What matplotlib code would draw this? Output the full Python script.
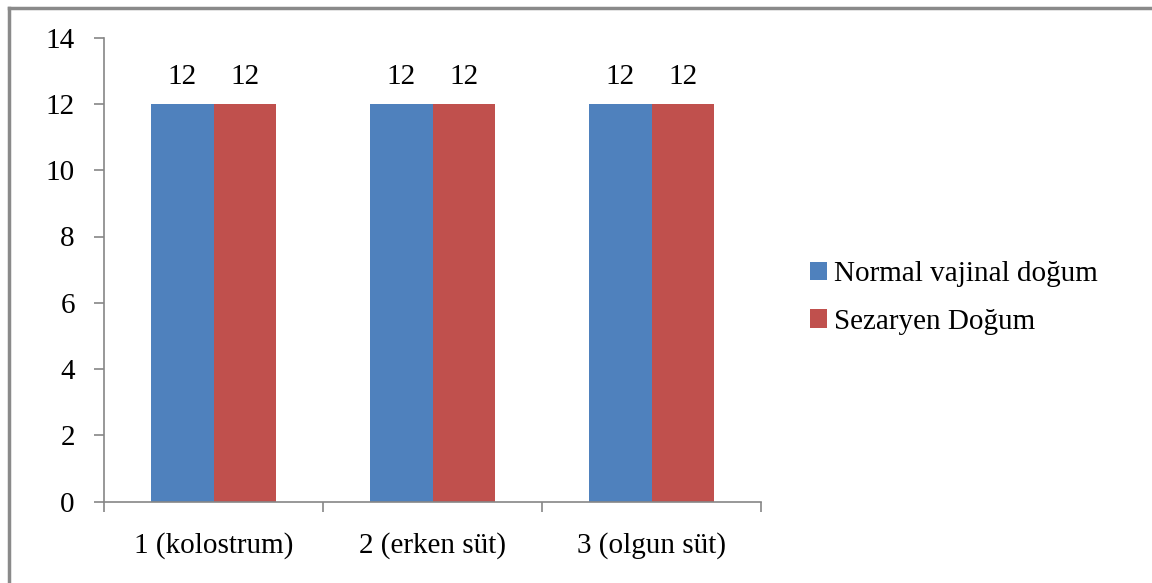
import matplotlib
matplotlib.use("Agg")
import matplotlib.pyplot as plt
import numpy as np
from matplotlib.lines import Line2D

categories = ["1 (kolostrum)", "2 (erken süt)", "3 (olgun süt)"]
series_names = ["Normal vajinal doğum", "Sezaryen Doğum"]
normal_vals = [12, 12, 12]
sezaryen_vals = [12, 12, 12]
yticks = [0, 2, 4, 6, 8, 10, 12, 14]

plt.rcParams['font.family'] = ['Liberation Serif', 'DejaVu Serif']

W, H = 1152, 583
fig = plt.figure(figsize=(W / 100, H / 100), dpi=100)
ax = fig.add_axes([104 / W, 1 - 501.7 / H, (761 - 104) / W, (501.7 - 37.6) / H])

gray = '#868686'
blue = '#4F81BD'
red = '#C0504D'
fs = 21

x = np.arange(len(categories))
bw = 1 / 3.5  # gap width 75%
b1 = ax.bar(x - bw / 2, normal_vals, bw, color=blue, label=series_names[0])
b2 = ax.bar(x + bw / 2, sezaryen_vals, bw, color=red, label=series_names[1])

for bars in (b1, b2):
    for r in bars:
        ax.text(r.get_x() + r.get_width() / 2, r.get_height() + 0.42, str(int(r.get_height())),
                ha='center', va='bottom', fontsize=fs)

ax.set_xlim(-0.5, len(categories) - 0.5)
ax.set_ylim(0, 14)
ax.set_yticks(yticks)
ax.tick_params(axis='y', length=7, width=1.2, color=gray, pad=14, labelsize=fs)

ax.set_xticks(np.arange(len(categories) + 1) - 0.5)
ax.set_xticklabels([])
ax.set_xticks(x, minor=True)
ax.set_xticklabels(categories, minor=True)
ax.tick_params(axis='x', which='major', length=7, width=1.2, color=gray)
ax.tick_params(axis='x', which='minor', length=0, pad=22, labelsize=fs)

for s in ['top', 'right']:
    ax.spines[s].set_visible(False)
for s in ['left', 'bottom']:
    ax.spines[s].set_color(gray)
    ax.spines[s].set_linewidth(1.2)

leg = fig.legend(handles=[b1, b2], loc='center left', bbox_to_anchor=(795 / W, 1 - 298 / H),
                 frameon=False, fontsize=fs, handlelength=0.6, handleheight=0.6,
                 handletextpad=0.25, labelspacing=0.75, borderpad=0)

# outer frame (top and left edges visible)
fig.add_artist(Line2D([9 / W, 9 / W], [0, 1 - 8 / H], transform=fig.transFigure, color='#8a8a8a', lw=2.5))
fig.add_artist(Line2D([9 / W, 1], [1 - 8 / H, 1 - 8 / H], transform=fig.transFigure, color='#8a8a8a', lw=2.5))

fig.savefig("out.png", dpi=100)
